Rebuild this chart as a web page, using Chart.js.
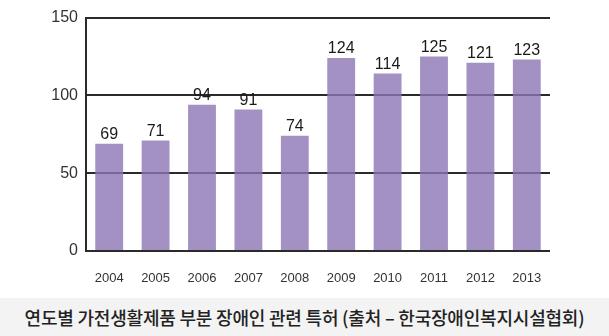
<!DOCTYPE html>
<html>
<head>
<meta charset="utf-8">
<script src="https://cdn.jsdelivr.net/npm/chart.js@4"></script>
<style>
  html, body { margin: 0; padding: 0; background: #fff; }
  #wrap { width: 609px; height: 298px; position: relative; }
  #caption {
    width: 609px; height: 38px; background: #f3f3f3;
    font-family: "Noto Sans CJK KR", sans-serif; font-weight: 500;
    font-size: 18px; color: #222; text-align: center; line-height: 38px;
    letter-spacing: -0.2px;
  }
</style>
</head>
<body>
<div id="wrap"><canvas id="chart"></canvas></div>
<div id="caption">연도별 가전생활제품 부분 장애인 관련 특허 (출처 – 한국장애인복지시설협회)</div>
<script>
// 데이터
const years = ['2004', '2005', '2006', '2007', '2008', '2009', '2010', '2011', '2012', '2013'];
const patents = [69, 71, 94, 91, 74, 124, 114, 125, 121, 123];
const yTicks = [0, 50, 100, 150];

// 막대 위 값 표시
const valueLabels = {
    id: 'valueLabels',
    afterDatasetsDraw(chart) {
        const ctx = chart.ctx;
        const meta = chart.getDatasetMeta(0);
        ctx.save();
        ctx.font = '16px "Liberation Sans", Arial, sans-serif';
        ctx.fillStyle = '#1a1a1a';
        ctx.textAlign = 'center';
        ctx.textBaseline = 'bottom';
        meta.data.forEach((bar, i) => {
            ctx.fillText(String(patents[i]), bar.x, bar.y - 1);
        });
        ctx.restore();
    }
};

new Chart(document.getElementById('chart'), {
    type: 'bar',
    data: {
        labels: years,
        datasets: [{
            data: patents,
            backgroundColor: 'rgba(140, 118, 181, 0.8)',
            borderWidth: 0,
            barPercentage: 0.6,
            categoryPercentage: 1.0
        }]
    },
    options: {
        responsive: true,
        maintainAspectRatio: false,
        animation: false,
        layout: { padding: { left: 0, right: 59, top: 15, bottom: 0 } },
        plugins: {
            legend: { display: false },
            tooltip: { enabled: false }
        },
        scales: {
            x: {
                grid: { display: false, drawTicks: false },
                border: { display: false },
                ticks: {
                    color: '#333',
                    padding: 20,
                    font: { family: '"Liberation Sans", Arial, sans-serif', size: 13 }
                },
                afterFit(scale) { scale.height = 47; }
            },
            y: {
                min: 0,
                max: 150,
                afterBuildTicks(scale) { scale.ticks = yTicks.map(v => ({ value: v })); },
                grid: { color: '#2a2a2a', lineWidth: 2, drawTicks: false },
                border: { display: true, color: '#2a2a2a', width: 2 },
                ticks: {
                    color: '#333',
                    padding: 8,
                    font: { family: '"Liberation Sans", Arial, sans-serif', size: 16 }
                },
                afterFit(scale) { scale.width = 86; }
            }
        }
    },
    plugins: [valueLabels]
});
</script>
</body>
</html>
